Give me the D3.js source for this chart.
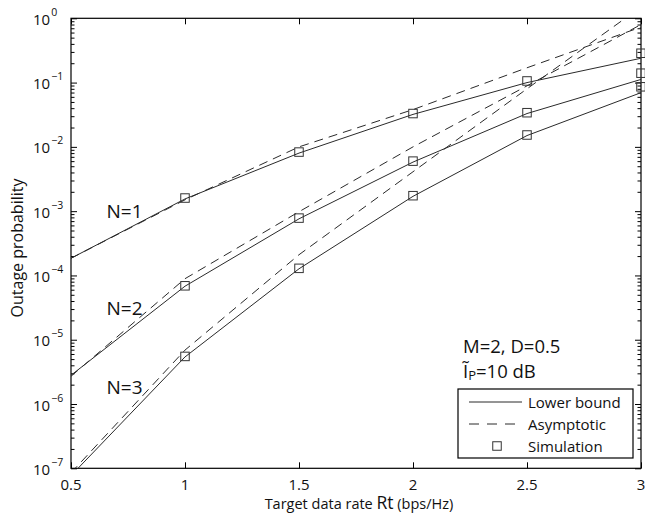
<!DOCTYPE html>
<html><head><meta charset="utf-8">
<script src="https://cdn.jsdelivr.net/npm/d3@7/dist/d3.min.js"></script>
<style>body{margin:0;background:#fff}svg{display:block}text{font-family:"Open Sans",sans-serif;fill:#111}</style>
</head><body><svg id="c" width="645" height="521"></svg>
<script>
// ---- data ----
const rates = [0.5, 1, 1.5, 2, 2.5, 3];
const simRates = [1, 1.5, 2, 2.5, 3];
const lowerN1 = [1.85e-4, 1.55e-3, 8.0e-3, 3.2e-2, 0.100, 0.239];
const lowerN2 = [2.8e-6, 6.8e-5, 7.6e-4, 5.8e-3, 3.3e-2, 0.112];
const lowerN3 = [7.7e-8, 5.4e-6, 1.27e-4, 1.7e-3, 1.5e-2, 0.0697];
const asymN1 = [1.85e-4, 1.5e-3, 1.0e-2, 3.8e-2, 0.17, 0.73];
const asymN2 = [2.7e-6, 8.9e-5, 9.8e-4, 1.0e-2, 0.089, 0.8];
const asymN3 = [8.5e-8, 6.9e-6, 2.1e-4, 4.1e-3, 0.08, 1.5];
const simN1 = [1.6e-3, 8.3e-3, 3.3e-2, 0.106, 0.286];
const simN2 = [6.9e-5, 7.8e-4, 6.0e-3, 3.4e-2, 0.14];
const simN3 = [5.5e-6, 1.29e-4, 1.74e-3, 1.53e-2, 0.086];
const curveLabels = ["N=1", "N=2", "N=3"];
const labelAnchors = [[0.66, 7.8e-4], [0.66, 2.4e-5], [0.66, 1.45e-6]];
const xTicks = [0.5, 1, 1.5, 2, 2.5, 3];
const xTickLabels = ["0.5", "1", "1.5", "2", "2.5", "3"];
const yExponents = [0, -1, -2, -3, -4, -5, -6, -7];
const legendItems = ["Lower bound", "Asymptotic", "Simulation"];

// ---- layout ----
const L = 71, R = 641, T = 18.3, B = 468.3;
const svg = d3.select("#c");
const x = d3.scaleLinear().domain([0.5, 3]).range([L, R]);
const y = d3.scaleLog().domain([1e-7, 1]).range([B, T]);
const ink = "#2a2a2a";

svg.append("defs").append("clipPath").attr("id", "clip")
  .append("rect").attr("x", L).attr("y", T).attr("width", R - L).attr("height", B - T);

// axes with ticks (inward)
const minorVals = [];
for (let e = -7; e < 0; e++) for (let m = 2; m <= 9; m++) minorVals.push(m * Math.pow(10, e));
const majorY = yExponents.map(e => Math.pow(10, e));
const axL = d3.axisLeft(y).tickValues(majorY).tickSize(-6).tickFormat("");
const axLm = d3.axisLeft(y).tickValues(minorVals).tickSize(-3.5).tickFormat("");
const axR = d3.axisRight(y).tickValues(majorY).tickSize(-6).tickFormat("");
const axRm = d3.axisRight(y).tickValues(minorVals).tickSize(-3.5).tickFormat("");
const axB = d3.axisBottom(x).tickValues(xTicks).tickSize(-6).tickFormat("");
const axT = d3.axisTop(x).tickValues(xTicks).tickSize(-6).tickFormat("");
[[axL, `translate(${L},0)`], [axLm, `translate(${L},0)`], [axR, `translate(${R},0)`], [axRm, `translate(${R},0)`],
 [axB, `translate(0,${B})`], [axT, `translate(0,${T})`]].forEach(([a, t]) => {
  const g = svg.append("g").attr("transform", t).call(a);
  g.select(".domain").remove();
  g.selectAll("line").attr("stroke", "#000").attr("stroke-width", 1);
});
svg.append("rect").attr("x", L).attr("y", T).attr("width", R - L).attr("height", B - T)
  .attr("fill", "none").attr("stroke", "#000").attr("stroke-width", 1.2);

// tick labels
xTicks.forEach((v, i) => {
  svg.append("text").attr("x", x(v)).attr("y", 490).attr("text-anchor", "middle")
    .attr("font-size", 15).text(xTickLabels[i]);
});
yExponents.forEach(e => {
  const t = svg.append("text").attr("x", 33).attr("y", y(Math.pow(10, e)) + 6.5).attr("font-size", 15);
  t.append("tspan").text("10");
  t.append("tspan").attr("dy", -9).attr("dx", 1).attr("font-size", 10.5).text(e === 0 ? "0" : "\u2212" + (-e));
});

// axis labels
const xl = svg.append("text").attr("x", 359).attr("y", 509).attr("text-anchor", "middle").attr("font-size", 14.5);
xl.append("tspan").text("Target data rate ");
xl.append("tspan").attr("font-size", 17.5).text("Rt");
xl.append("tspan").text(" (bps/Hz)");
svg.append("text").attr("transform", "translate(23,248) rotate(-90)").attr("text-anchor", "middle")
  .attr("font-size", 16).text("Outage probability");

// curves
const plot = svg.append("g").attr("clip-path", "url(#clip)");
const line = d3.line().x(d => x(d[0])).y(d => y(d[1]));
[lowerN1, lowerN2, lowerN3].forEach(s => {
  plot.append("path").attr("d", line(rates.map((r, i) => [r, s[i]])))
    .attr("fill", "none").attr("stroke", ink).attr("stroke-width", 1);
});
[asymN1, asymN2, asymN3].forEach(s => {
  plot.append("path").attr("d", line(rates.map((r, i) => [r, s[i]])))
    .attr("fill", "none").attr("stroke", ink).attr("stroke-width", 1).attr("stroke-dasharray", "9,6");
});
const sq = 8.5;
[simN1, simN2, simN3].forEach(s => {
  svg.append("g").selectAll("rect").data(simRates.map((r, i) => [r, s[i]])).join("rect")
    .attr("x", d => x(d[0]) - sq / 2).attr("y", d => y(d[1]) - sq / 2)
    .attr("width", sq).attr("height", sq).attr("fill", "none").attr("stroke", "#333").attr("stroke-width", 1);
});

// N labels
curveLabels.forEach((t, i) => {
  svg.append("text").attr("x", x(labelAnchors[i][0]) - 1).attr("y", y(labelAnchors[i][1]))
    .attr("font-size", 19).text(t);
});

// annotation
svg.append("text").attr("x", 463).attr("y", 353).attr("font-size", 18.5).text("M=2, D=0.5");
const an = svg.append("text").attr("x", 463).attr("y", 378).attr("font-size", 18.5);
an.append("tspan").text("\u0128");
an.append("tspan").attr("font-size", 13).attr("dy", 2).text("P");
an.append("tspan").attr("dy", -2).text("=10 dB");

// legend
svg.append("rect").attr("x", 458).attr("y", 389).attr("width", 175).attr("height", 69)
  .attr("fill", "#fff").attr("stroke", "#000").attr("stroke-width", 1.2);
const ly = [402, 424, 446];
svg.append("line").attr("x1", 469).attr("x2", 522).attr("y1", ly[0]).attr("y2", ly[0]).attr("stroke", ink);
svg.append("line").attr("x1", 469).attr("x2", 522).attr("y1", ly[1]).attr("y2", ly[1]).attr("stroke", ink).attr("stroke-dasharray", "10,8");
svg.append("rect").attr("x", 497 - sq / 2).attr("y", ly[2] - sq / 2).attr("width", sq).attr("height", sq)
  .attr("fill", "none").attr("stroke", "#333");
legendItems.forEach((t, i) => {
  svg.append("text").attr("x", 528).attr("y", ly[i] + 5.5).attr("font-size", 15).text(t);
});
</script></body></html>
